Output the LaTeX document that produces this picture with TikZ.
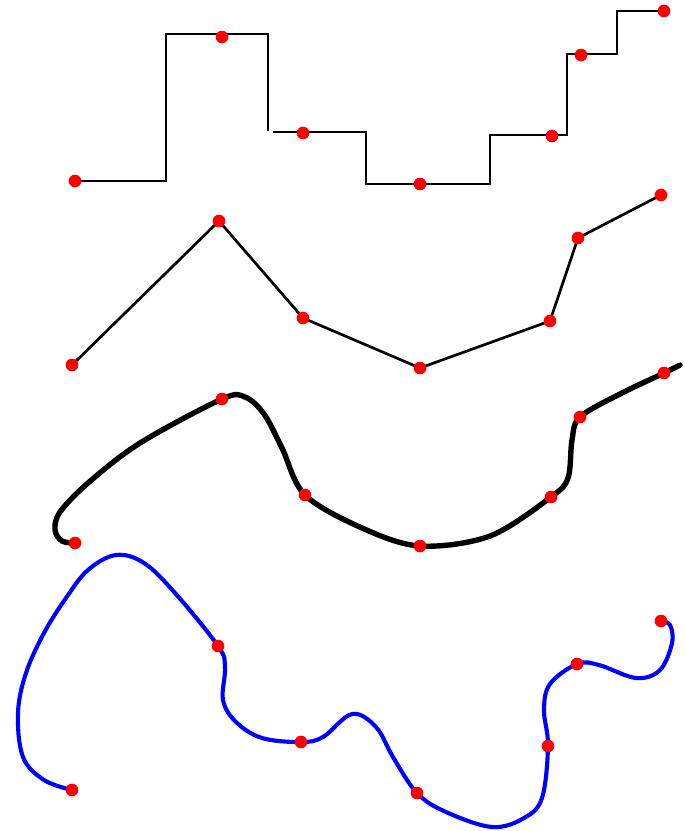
\documentclass[tikz,border=0pt]{standalone}
\usepackage{xcolor}
\usepackage{tikz}
\usetikzlibrary{calc}
\definecolor{dotred}{HTML}{FF0000}
\definecolor{curveblue}{HTML}{0000FF}
\tikzset{
  knot/.style  ={fill=dotred},
  stair/.style ={draw=black,line width=2.3pt},
  poly/.style  ={draw=black,line width=2.3pt,line join=round},
  spline/.style={draw=black,line width=4.6pt,line cap=round,smooth,tension=0.55},
  wiggle/.style={draw=curveblue,line width=3.5pt,line cap=round,smooth,tension=0.6}
}

\begin{document}
\begin{tikzpicture}[x=0.03cm,y=-0.03cm]
        \useasboundingbox (0,0) rectangle (685,831);
        % row 1: staircase
        \coordinate (s1) at (75,181);  \coordinate (s2) at (222,37);
        \coordinate (s3) at (303,133); \coordinate (s4) at (420,184);
        \coordinate (s5) at (552,136); \coordinate (s6) at (581,55);
        \coordinate (s7) at (664,11);
        \draw[stair] (s1) -- (166,181) -- (166,34) -- (268,34) -- (268,131);
        \draw[stair] (273,132) -- (366,132) -- (366,184) -- (490,184)
                     -- (490,135) -- (567,135) -- (567,54) -- (617,54)
                     -- (617,11) -- (s7);
        % row 2: polyline
        \coordinate (p1) at (72,365);  \coordinate (p2) at (219,221);
        \coordinate (p3) at (303,318); \coordinate (p4) at (420,368);
        \coordinate (p5) at (550,321); \coordinate (p6) at (578,238);
        \coordinate (p7) at (661,195);
        \draw[poly] (p1) -- (p2) -- (p3) -- (p4) -- (p5) -- (p6) -- (p7);
        % row 3: thick spline
        \coordinate (c1) at (75,543);  \coordinate (c2) at (222,399);
        \coordinate (c3) at (305,495); \coordinate (c4) at (420,546);
        \coordinate (c5) at (551,497); \coordinate (c6) at (580,417);
        \coordinate (c7) at (664,373);
        \draw[spline] plot coordinates {(c1) (62,541) (55,530) (60,512)
          (88,483) (140,443) (c2) (245,397) (264,414) (282,448)
          (c3) (362,528) (c4) (490,536) (c5)
          (568,478) (572,440) (c6) (620,394) (c7) (680,365)};
        % row 4: blue curve
        \coordinate (w1) at (72,790);  \coordinate (w2) at (218,646);
        \coordinate (w3) at (301,742); \coordinate (w4) at (417,793);
        \coordinate (w5) at (548,746); \coordinate (w6) at (577,664);
        \coordinate (w7) at (661,621);
        \draw[wiggle] plot coordinates {(w1) (44,780) (23,757) (18,713)
          (26,673) (44,633) (66,598) (88,570) (116,555) (144,563) (175,593)
          (w2) (225,667) (223,700) (236,722) (262,738) (w3) (323,737)
          (352,714) (376,727) (393,757) (w4) (446,812) (492,827) (524,818)
          (542,798) (w5) (544,710) (550,684) (w6) (599,665) (636,678)
          (660,670) (672,643) (670,625) (w7)};
        % knots
        \foreach \n in {s,p,c,w}
          \foreach \i in {1,...,7}
            \fill[knot] (\n\i) circle (0.19cm);
      \end{tikzpicture}
\end{document}
